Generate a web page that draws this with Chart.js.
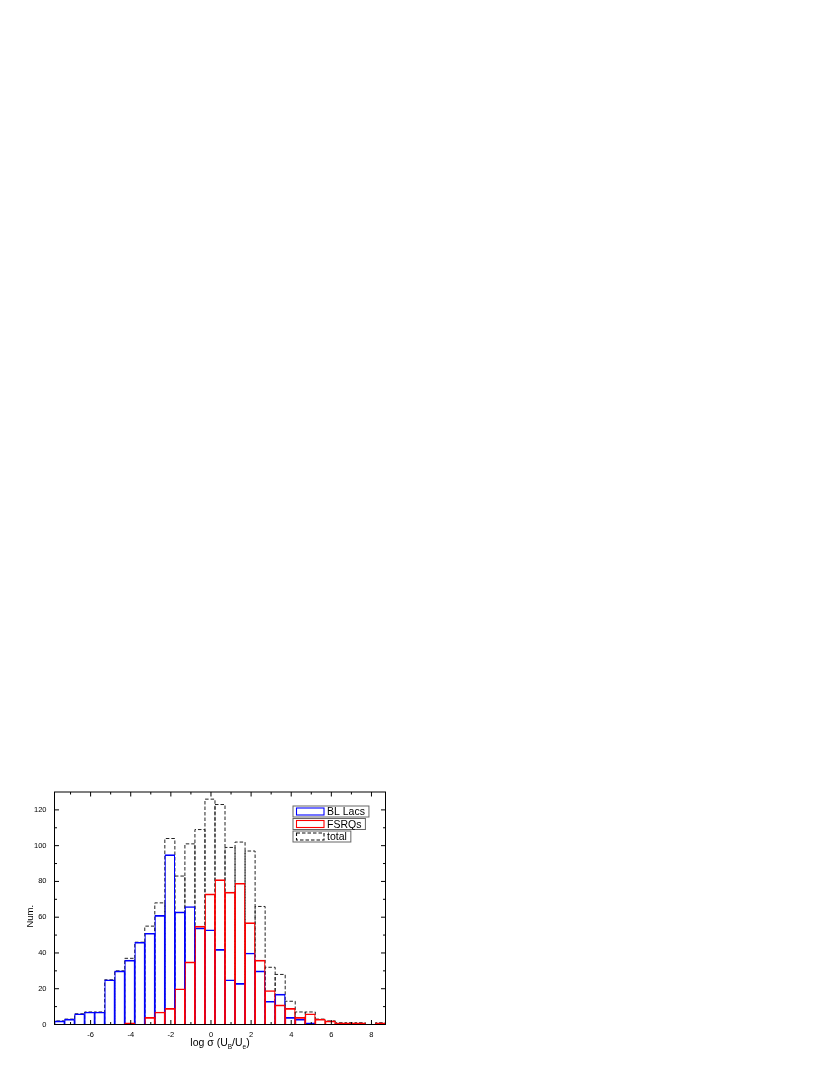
<!DOCTYPE html>
<html><head><meta charset="utf-8">
<script src="https://cdn.jsdelivr.net/npm/chart.js@4"></script>
<style>
html,body{margin:0;padding:0;background:#fff;width:830px;height:1075px;overflow:hidden}
#wrap{position:absolute;left:0;top:770px;width:400px;height:290px}
</style></head><body>
<div id="wrap"><canvas id="c" width="400" height="290"></canvas></div>
<script>
// bin centres of log sigma (U_B/U_e), bin width 0.5
const binCenters = [-7.55,-7.05,-6.55,-6.05,-5.55,-5.05,-4.55,-4.05,-3.55,-3.05,-2.55,-2.05,-1.55,-1.05,-0.55,-0.05,0.45,0.95,1.45,1.95,2.45,2.95,3.45,3.95,4.45,4.95,5.45,5.95,6.45,6.95,7.45,7.95,8.45];
const blLacs = [2,3,6,7,7,25,30,36,46,51,61,95,63,66,54,53,42,25,23,40,30,13,17,4,3,1,0,0,0,0,0,0,0];
const fsrqs  = [0,0,0,0,0,0,0,1,0,4,7,9,20,35,55,73,81,74,79,57,36,19,11,9,4,6,3,2,1,1,1,0,1];
const total  = [2,3,6,7,7,25,30,37,46,55,68,104,83,101,109,126,123,99,102,97,66,32,28,13,7,7,3,2,1,1,1,0,1];
const seriesLabels = ['BL Lacs','FSRQs','total'];
const xTickValues = [-6,-4,-2,0,2,4,6,8];
const xMinorTicks = [-7,-5,-3,-1,1,3,5,7];
const yTickValues = [0,20,40,60,80,100,120];
const yMinorTicks = [10,30,50,70,90,110];
const xTitleParts = ['log \u03C3 (U','B','/U','e',')'];
const yTitle = 'Num.';

const FONT = '"Liberation Sans", Arial, Helvetica, sans-serif';

const toPts = arr => binCenters.map((x,i)=>({x:x, y:arr[i]}));

const histPlugin = {
  id: 'histDecor',
  beforeDatasetsDraw(chart){
    const ctx = chart.ctx;
    const meta = chart.getDatasetMeta(0);
    ctx.save();
    ctx.strokeStyle = '#222';
    ctx.lineWidth = 1;
    ctx.setLineDash([3.5,2]);
    meta.data.forEach(el=>{
      const p = el.getProps(['x','y','base','width'], true);
      if (Math.abs(p.base - p.y) < 0.5) return;
      const l = p.x - p.width/2, r = p.x + p.width/2;
      ctx.beginPath();
      ctx.moveTo(l, p.base); ctx.lineTo(l, p.y); ctx.lineTo(r, p.y); ctx.lineTo(r, p.base);
      ctx.stroke();
    });
    ctx.restore();
  },
  afterDatasetsDraw(chart){
    const ctx = chart.ctx, a = chart.chartArea;
    const xs = chart.scales.x, ys = chart.scales.y;
    ctx.save();
    ctx.strokeStyle = '#000';
    ctx.lineWidth = 1;
    ctx.setLineDash([]);
    ctx.strokeRect(a.left, a.top, a.right - a.left, a.bottom - a.top);
    ctx.beginPath();
    const tickX = (v, len) => {
      const px = xs.getPixelForValue(v);
      ctx.moveTo(px, a.bottom); ctx.lineTo(px, a.bottom - len);
      ctx.moveTo(px, a.top); ctx.lineTo(px, a.top + len);
    };
    const tickY = (v, len) => {
      const py = ys.getPixelForValue(v);
      ctx.moveTo(a.left, py); ctx.lineTo(a.left + len, py);
      ctx.moveTo(a.right, py); ctx.lineTo(a.right - len, py);
    };
    xTickValues.forEach(v=>tickX(v,4.5));
    xMinorTicks.forEach(v=>tickX(v,2.5));
    yTickValues.forEach(v=>tickY(v,4.5));
    yMinorTicks.forEach(v=>tickY(v,2.5));
    ctx.stroke();
    ctx.restore();
  },
  afterDraw(chart){
    const ctx = chart.ctx, a = chart.chartArea;
    ctx.save();
    // legend
    ctx.font = '10.5px ' + FONT;
    ctx.textBaseline = 'alphabetic';
    const x0 = a.right - 92.5;
    let y = a.top + 14;
    const rowH = 11, step = 12.5;
    const order = [1,2,0];
    order.forEach(di=>{
      const ds = chart.data.datasets[di];
      const tw = ctx.measureText(ds.label).width;
      const boxW = 34 + tw + 4;
      ctx.setLineDash([]);
      ctx.strokeStyle = '#666';
      ctx.lineWidth = 1;
      ctx.strokeRect(x0, y, boxW, rowH);
      ctx.strokeStyle = ds.legendColor;
      ctx.lineWidth = 1.1;
      if (ds.legendDash) ctx.setLineDash([3.5,2]);
      ctx.strokeRect(x0 + 3.5, y + 2, 27.5, rowH - 4);
      ctx.setLineDash([]);
      ctx.fillStyle = '#000';
      ctx.fillText(ds.label, x0 + 34, y + rowH - 2);
      y += step;
    });
    // x title with subscripts
    const big = '10.5px ' + FONT, small = '6.5px ' + FONT;
    const sizes = [big, small, big, small, big];
    const offs = [0, 2.5, 0, 2.5, 0];
    let w = 0;
    xTitleParts.forEach((t,i)=>{ ctx.font = sizes[i]; w += ctx.measureText(t).width; });
    let cx = (a.left + a.right)/2 - w/2;
    const base = a.bottom + 21.5;
    ctx.textAlign = 'left';
    xTitleParts.forEach((t,i)=>{
      ctx.font = sizes[i];
      ctx.fillText(t, cx, base + offs[i]);
      cx += ctx.measureText(t).width;
    });
    // y title
    ctx.font = '9.5px ' + FONT;
    ctx.translate(30.5, (a.top + a.bottom)/2 + 8);
    ctx.rotate(-Math.PI/2);
    ctx.textAlign = 'center';
    ctx.textBaseline = 'middle';
    ctx.fillText(yTitle, 0, 0);
    ctx.restore();
  }
};

new Chart(document.getElementById('c'), {
  type: 'bar',
  data: {
    datasets: [
      { label: seriesLabels[2], data: toPts(total), backgroundColor: 'rgba(0,0,0,0)', borderWidth: 0,
        grouped: false, barPercentage: 1, categoryPercentage: 1, order: 2, legendColor: '#111', legendDash: true },
      { label: seriesLabels[0], data: toPts(blLacs), backgroundColor: 'rgba(0,0,0,0)', borderColor: '#0000ff',
        borderWidth: {top: 1, left: 0.55, right: 0.55, bottom: 0}, borderSkipped: 'start',
        grouped: false, barPercentage: 1, categoryPercentage: 1, order: 1, legendColor: '#0000ff' },
      { label: seriesLabels[1], data: toPts(fsrqs), backgroundColor: 'rgba(0,0,0,0)', borderColor: '#ff0000',
        borderWidth: {top: 1, left: 0.55, right: 0.55, bottom: 0}, borderSkipped: 'start',
        grouped: false, barPercentage: 1, categoryPercentage: 1, order: 0, legendColor: '#ff0000' }
    ]
  },
  options: {
    responsive: false,
    animation: false,
    devicePixelRatio: 1,
    layout: { padding: { left: 0, right: 14.5, top: 22, bottom: 0 } },
    plugins: { legend: { display: false }, tooltip: { enabled: false } },
    scales: {
      x: {
        type: 'linear', min: -7.8, max: 8.7, offset: false,
        afterBuildTicks: s => { s.ticks = xTickValues.map(v=>({value:v})); },
        afterFit: s => { s.height = 35.5; },
        grid: { display: false, drawTicks: false },
        border: { display: false },
        ticks: { color: '#000', font: { family: FONT, size: 7.5 }, padding: 5.5, maxRotation: 0, autoSkip: false,
                 callback: v => String(v) }
      },
      y: {
        type: 'linear', min: 0, max: 130,
        afterBuildTicks: s => { s.ticks = yTickValues.map(v=>({value:v})); },
        afterFit: s => { s.width = 54.5; },
        grid: { display: false, drawTicks: false },
        border: { display: false },
        ticks: { color: '#000', font: { family: FONT, size: 7.5 }, padding: 8, autoSkip: false,
                 callback: v => String(v) }
      }
    }
  },
  plugins: [histPlugin]
});
</script>
</body></html>
